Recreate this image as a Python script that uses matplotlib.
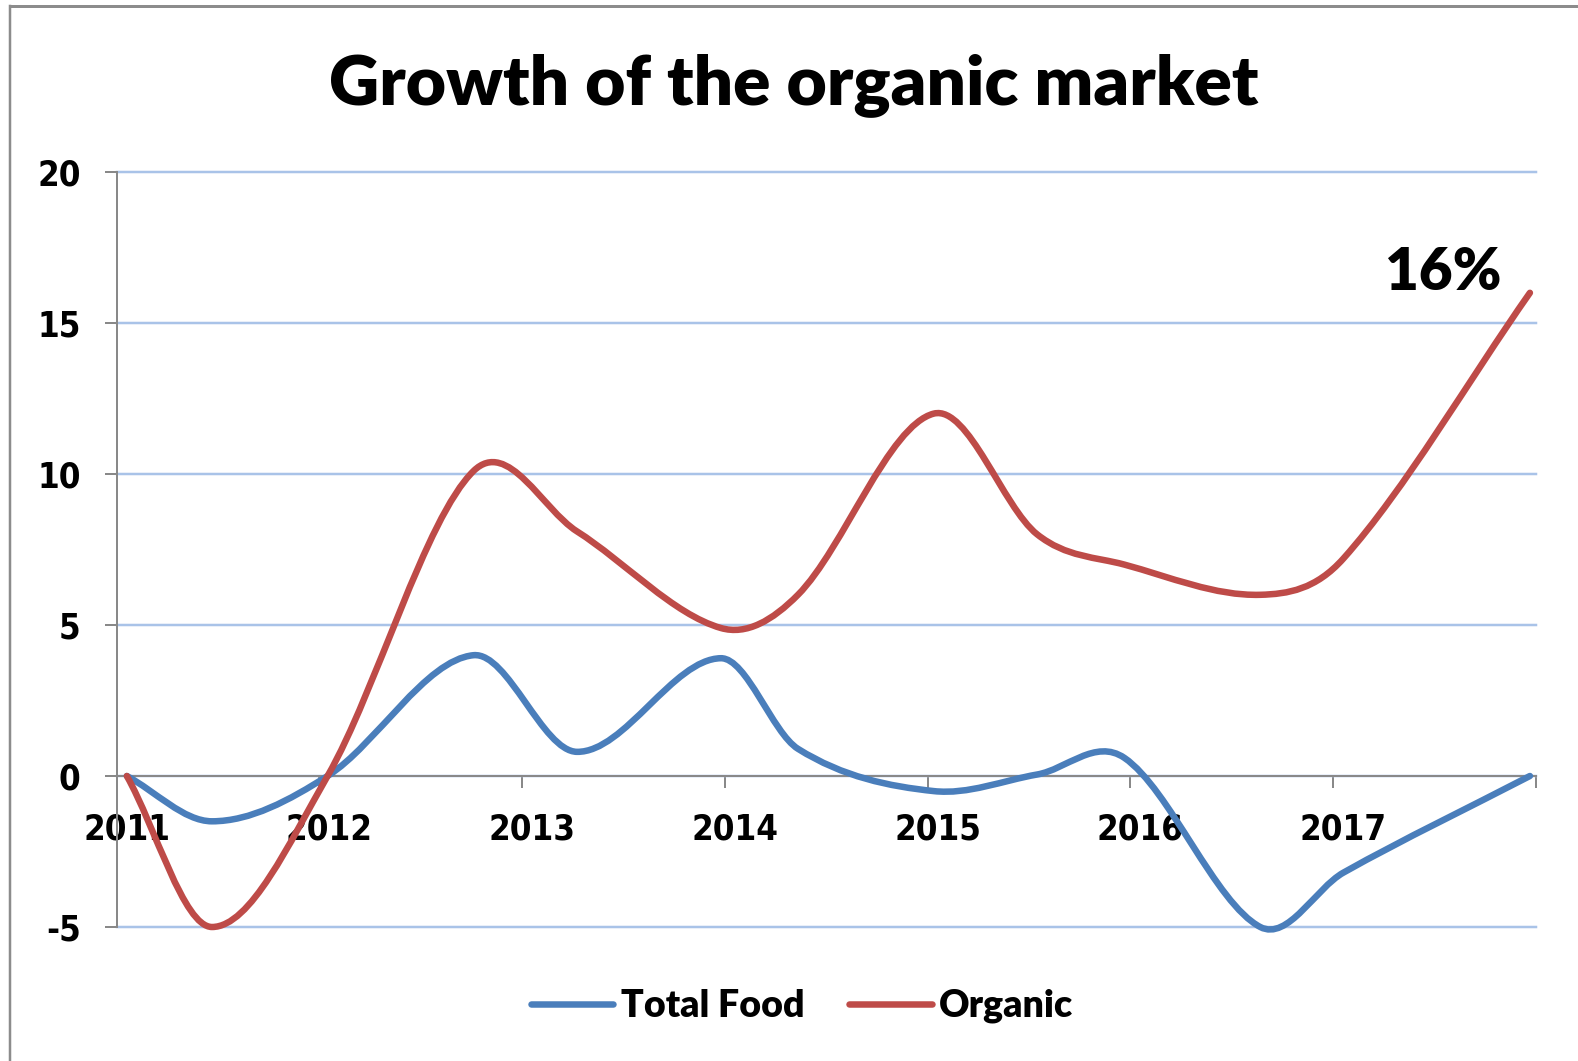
import numpy as np
import matplotlib
matplotlib.use("Agg")
import matplotlib.pyplot as plt
from matplotlib.path import Path
from matplotlib.patches import PathPatch
from matplotlib.lines import Line2D
from matplotlib.font_manager import FontProperties
import matplotlib.transforms as mtransforms

# Data (x in fractional years)
x_points = [2011.05, 2011.47, 2012.04, 2012.76, 2013.27, 2013.98, 2014.36,
            2015.03, 2015.54, 2015.97, 2016.64, 2017.05, 2017.97]
total_food = [0, -1.5, 0, 4.0, 0.8, 3.9, 0.9, -0.5, 0.05, 0.6, -5.0, -3.2, 0]
organic = [0, -5.0, 0, 10.1, 8.1, 4.9, 6.0, 12.0, 8.0, 7.0, 6.0, 7.2, 16]
year_labels = ['2011', '2012', '2013', '2014', '2015', '2016', '2017', '']
y_ticks = [-5, 0, 5, 10, 15, 20]

BLUE = '#4A7EBB'
RED = '#BE4B48'
GRID = '#A9C3E8'
AXIS = '#898989'

W, H = 1578, 1061
DPI = 100
PX = 72 / DPI  # points per pixel


# smoothed line like Excel's: cubic Bezier segments through every point
def smooth_path(xs, ys):
    x = np.asarray(xs, float)
    y = np.asarray(ys, float)
    n = len(x)
    m = np.zeros(n)
    m[1:-1] = (y[2:] - y[:-2]) / (x[2:] - x[:-2])
    m[0] = (y[1] - y[0]) / (x[1] - x[0])
    m[-1] = (y[-1] - y[-2]) / (x[-1] - x[-2])
    verts = [(x[0], y[0])]
    codes = [Path.MOVETO]
    for i in range(n - 1):
        h = (x[i + 1] - x[i]) / 3
        verts += [(x[i] + h, y[i] + m[i] * h),
                  (x[i + 1] - h, y[i + 1] - m[i + 1] * h),
                  (x[i + 1], y[i + 1])]
        codes += [Path.CURVE4] * 3
    return Path(verts, codes)


fig = plt.figure(figsize=(W / DPI, H / DPI), dpi=DPI)
ax = fig.add_axes([116.7 / W, 1 - 927 / H, (1536 - 116.7) / W, (927 - 172) / H])

lw = 6.5 * PX
for vals, col in [(total_food, BLUE), (organic, RED)]:
    patch = PathPatch(smooth_path(x_points, vals), fill=False, edgecolor=col,
                      lw=lw, capstyle='round', joinstyle='round', zorder=3,
                      clip_on=False)
    ax.add_patch(patch)

ax.set_xlim(2011, 2018)
ax.set_ylim(-5, 20)

# y axis
ax.set_yticks(y_ticks)
ax.set_yticklabels([str(v) for v in y_ticks])
ax.yaxis.grid(True, color=GRID, lw=2.5 * PX)
ax.set_axisbelow(True)
for gl in ax.yaxis.get_gridlines():
    gl.set_clip_on(False)

# x axis crossing at 0
ax.set_xticks(range(2011, 2019))
ax.set_xticklabels(year_labels)
ax.spines['bottom'].set_position(('data', 0))
ax.spines['top'].set_visible(False)
ax.spines['right'].set_visible(False)
for s in ['left', 'bottom']:
    ax.spines[s].set_color(AXIS)
    ax.spines[s].set_linewidth(2 * PX)
    ax.spines[s].set_zorder(2)

tick_font = FontProperties(family='DejaVu Sans', weight='bold', size=25,
                           stretch='condensed')
ax.tick_params(axis='both', direction='out', length=12 * PX, width=2 * PX,
               color=AXIS, labelcolor='black')
ax.tick_params(axis='x', pad=24 * PX)
ax.tick_params(axis='y', pad=24 * PX)
for lab in ax.get_xticklabels() + ax.get_yticklabels():
    lab.set_fontproperties(tick_font)
offset = mtransforms.ScaledTranslation(10 / DPI, 0, fig.dpi_scale_trans)
for lab in ax.get_xticklabels():
    lab.set_transform(lab.get_transform() + offset)

# annotation on the last organic value
ax.annotate('16%', xy=(x_points[-1], organic[-1]), xytext=(-87, 20),
            textcoords='offset pixels', ha='center', va='center',
            fontsize=42, fontweight='heavy', family='Lato')

# title
fig.text(794 / W, 1 - 104 / H, 'Growth of the organic market', ha='center',
         va='baseline', fontsize=50, fontweight='heavy', family='Lato')

# legend
handles = [Line2D([], [], color=BLUE, lw=lw, solid_capstyle='round'),
           Line2D([], [], color=RED, lw=lw, solid_capstyle='round')]
fig.legend(handles, ['Total Food', 'Organic'], loc='center',
           bbox_to_anchor=(802 / W, 1 - 1006 / H), ncol=2, frameon=False,
           prop=dict(family='Lato', weight='heavy', size=27),
           handlelength=2.2, handletextpad=0.2, columnspacing=1.2,
           borderpad=0, borderaxespad=0)

# chart border (top and left edges visible)
fig.add_artist(Line2D([10 / W, 10 / W], [0, 1 - 6 / H], transform=fig.transFigure,
                      color='#8C8C8C', lw=2.5 * PX))
fig.add_artist(Line2D([10 / W, 1], [1 - 6 / H, 1 - 6 / H], transform=fig.transFigure,
                      color='#8C8C8C', lw=3 * PX))

fig.savefig('out.png', dpi=DPI)
